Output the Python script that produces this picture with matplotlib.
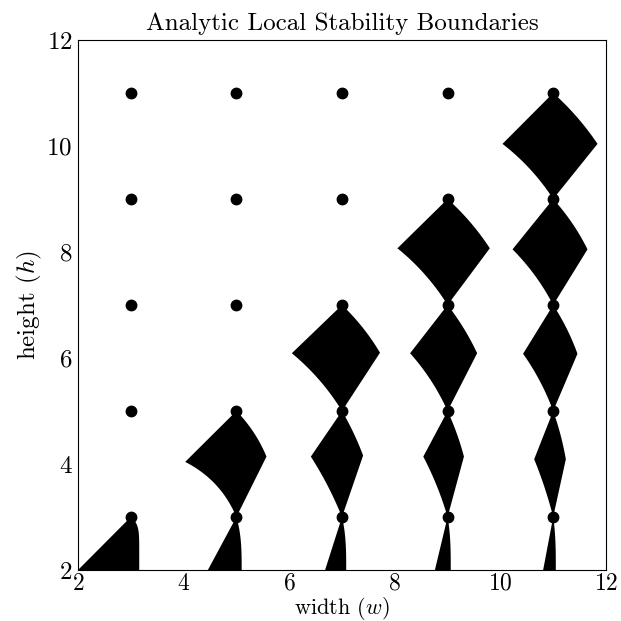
import numpy as np
import matplotlib
matplotlib.use("Agg")
import matplotlib.pyplot as plt

plt.rcParams['font.family'] = 'cmr10'
plt.rcParams['mathtext.fontset'] = 'cm'
plt.rcParams['axes.formatter.use_mathtext'] = True

# lattice points (odd width / odd height)
dot_w = [3, 5, 7, 9, 11]
dot_h = [3, 5, 7, 9, 11]

# bottom wedges between height 2 and 3
wedge_w = [3, 5, 7, 9, 11]
wedge_left = [2.0, 4.46, 6.68, 8.76, 10.81]
wedge_right = [3.16, 5.10, 7.08, 9.06, 11.05]
wedge_pow = [8, 3, 3, 3, 3]

# diamonds: column, bottom height (top = bottom + 2), side vertices
diamond_w = [5, 7, 7, 9, 9, 9, 11, 11, 11, 11]
diamond_h = [3, 3, 5, 3, 5, 7, 3, 5, 7, 9]
left_x = [4.03, 6.41, 6.05, 8.54, 8.29, 8.05, 10.64, 10.43, 10.23, 10.04]
left_y = [4.04, 4.14, 6.09, 4.14, 6.09, 8.07, 4.09, 6.08, 8.05, 10.04]
right_x = [5.57, 7.40, 7.72, 9.31, 9.56, 9.80, 11.24, 11.46, 11.65, 11.84]
right_y = [4.14, 4.16, 6.10, 4.14, 6.09, 8.07, 4.09, 6.08, 8.05, 10.04]
lower_left_bow = [0.13, 0.03, 0.06, 0.03, 0.05, 0.06, 0.02, 0.04, 0.05, 0.06]
upper_right_bow = [0.05, 0.02, 0.04, 0.02, 0.03, 0.04, 0.02, 0.03, 0.04, 0.04]


def edge(a, b, bow, n=30):
    # bowed edge from a to b; positive bow bends to the left of travel
    a = np.array(a, float)
    b = np.array(b, float)
    t = np.linspace(0, 1, n)[:, None]
    d = b - a
    nrm = np.array([-d[1], d[0]]) / np.hypot(*d)
    return a + t * d + bow * 4 * t * (1 - t) * nrm


fig = plt.figure(figsize=(6.21, 6.21), dpi=100)
ax = fig.add_axes([0.1256, 0.0821, 0.8502, 0.8535])

for w, xl, xr, p in zip(wedge_w, wedge_left, wedge_right, wedge_pow):
    ys = np.linspace(2, 3, 60)
    xs = w + (xr - w) * (1 - (ys - 2) ** p)
    px = np.concatenate([[xl], xs])
    py = np.concatenate([[2], ys])
    ax.fill(px, py, color='k', lw=0)

for i in range(len(diamond_w)):
    w, hb = diamond_w[i], diamond_h[i]
    B = (w, hb)
    T = (w, hb + 2)
    L = (left_x[i], left_y[i])
    R = (right_x[i], right_y[i])
    pts = np.vstack([
        edge(B, R, 0.0),
        edge(R, T, -upper_right_bow[i]),
        edge(T, L, 0.0),
        edge(L, B, lower_left_bow[i]),
    ])
    ax.fill(pts[:, 0], pts[:, 1], color='k', lw=0)

gx, gy = np.meshgrid(dot_w, dot_h)
ax.plot(gx.ravel(), gy.ravel(), 'o', color='k', ms=7.5, zorder=5)

ax.set_xlim(2, 12)
ax.set_ylim(2, 12)
ax.set_xticks([2, 4, 6, 8, 10, 12])
ax.set_yticks([2, 4, 6, 8, 10, 12])
ax.tick_params(axis='y', length=0, labelsize=18, pad=4)
ax.tick_params(axis='x', length=0, labelsize=17, pad=2)
ax.set_title('Analytic Local Stability Boundaries', fontsize=18, pad=7)
ax.set_xlabel('width ($w$)', fontsize=16, labelpad=0)
ax.set_ylabel('height ($h$)', fontsize=18, labelpad=2)
for s in ax.spines.values():
    s.set_linewidth(0.8)

fig.savefig('out.png', dpi=100)
